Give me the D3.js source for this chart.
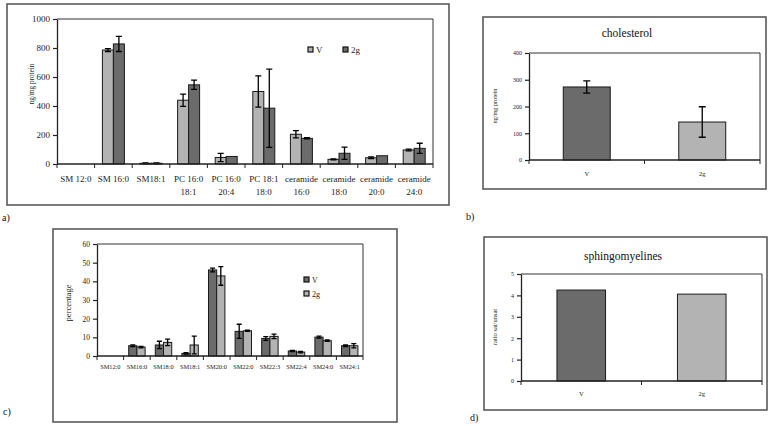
<!DOCTYPE html>
<html><head><meta charset="utf-8">
<script src="https://cdn.jsdelivr.net/npm/d3@7"></script>
<style>
html,body{margin:0;padding:0;background:#fff;}
svg{display:block;font-family:"Liberation Serif","Times New Roman",serif;}
</style></head>
<body>
<svg id="c" width="772" height="426"></svg>
<script>
// ---------- DATA ----------
const seriesNames = ["V", "2g"];

// a) lipid species (ng/mg protein)
const aCategories = ["SM 12:0", "SM 16:0", "SM18:1", "PC 16:0|18:1", "PC 16:0|20:4", "PC 18:1|18:0", "ceramide|16:0", "ceramide|18:0", "ceramide|20:0", "ceramide|24:0"];
const aV   = [0, 786, 5, 440, 45, 500, 205, 32, 43, 97];
const aVErr = [0, 10, 2, 42, 28, 108, 25, 3, 6, 6];
const a2g  = [0, 828, 5, 546, 52, 385, 177, 74, 57, 108];
const a2gErr = [0, 52, 2, 32, 0, 270, 4, 42, 0, 35];
const aTicks = [0, 200, 400, 600, 800, 1000];

// b) cholesterol (ng/mg protein)
const bCategories = ["V", "2g"];
const bValues = [273, 142];
const bErr = [23, 57];
const bTicks = [0, 100, 200, 300, 400];

// c) SM species (percentage)
const cCategories = ["SM12:0", "SM16:0", "SM18:0", "SM18:1", "SM20:0", "SM22:0", "SM22:3", "SM22:4", "SM24:0", "SM24:1"];
const cV   = [0, 5.5, 5.9, 1.4, 46.1, 13.2, 9.4, 2.7, 10.1, 5.5];
const cVErr = [0, 0.5, 2.0, 0.4, 1.0, 3.8, 1.0, 0.3, 0.5, 0.4];
const c2g  = [0, 4.8, 7.3, 5.9, 42.9, 13.5, 10.5, 2.1, 8.2, 5.5];
const c2gErr = [0, 0.4, 1.7, 4.8, 5.0, 0.3, 1.2, 0.4, 0.4, 1.1];
const cTicks = [0, 10, 20, 30, 40, 50, 60];

// d) sphingomyelines ratio sat/unsat
const dCategories = ["V", "2g"];
const dValues = [4.25, 4.06];
const dTicks = [0, 1, 2, 3, 4, 5];

// ---------- DRAW ----------
const LIGHT = "#b3b3b3", DARK = "#6b6b6b";
const svg = d3.select("#c");

function frame(x0, y0, x1, y1) {
  svg.append("rect").attr("x", x0).attr("y", y0).attr("width", x1 - x0).attr("height", y1 - y0)
    .attr("fill", "none").attr("stroke", "#5a5a5a").attr("stroke-width", 1.6);
}

function panel(o) {
  const g = svg.append("g");
  const x = d3.scaleBand().domain(o.categories).range([o.left, o.right]).paddingInner(0).paddingOuter(0);
  const y = d3.scaleLinear().domain([0, o.max]).range([o.bottom, o.top]);
  const sub = d3.scaleBand().domain(d3.range(o.series.length)).range([0, x.bandwidth()]).paddingInner(0).paddingOuter(o.outerPad);

  // plot box (top & right)
  g.append("path").attr("d", `M${o.left},${o.top}H${o.right}V${o.bottom}`)
    .attr("fill", "none").attr("stroke", "#333").attr("stroke-width", 1);

  // bars
  o.series.forEach((s, si) => {
    o.categories.forEach((c, ci) => {
      const v = s.values[ci];
      const bx = x(c) + sub(si);
      const bw = sub.bandwidth();
      if (v > 0) {
        g.append("rect").attr("x", bx).attr("y", y(v)).attr("width", bw).attr("height", y(0) - y(v))
          .attr("fill", s.colorFn ? s.colorFn(ci) : s.color).attr("stroke", "#1a1a1a").attr("stroke-width", 1);
      }
      const e = s.err ? s.err[ci] : 0;
      if (e > 0) {
        const cx = bx + bw / 2, hw = o.cap / 2;
        g.append("path").attr("d", `M${cx},${y(v + e)}V${y(Math.max(0, v - e))}M${cx - hw},${y(v + e)}H${cx + hw}M${cx - hw},${y(Math.max(0, v - e))}H${cx + hw}`)
          .attr("stroke", "#000").attr("stroke-width", 1.3).attr("fill", "none");
      }
    });
  });

  // y axis
  const ya = g.append("g").attr("transform", `translate(${o.left},0)`)
    .call(d3.axisLeft(y).tickValues(o.ticks).tickSize(4).tickSizeOuter(0).tickPadding(3).tickFormat(d3.format("d")));
  ya.select(".domain").attr("stroke", "#222").attr("stroke-width", 1.3);
  ya.selectAll(".tick line").attr("stroke", "#222").attr("stroke-width", 1.2);
  ya.selectAll(".tick text").attr("font-family", "Liberation Serif").attr("font-size", o.tickFont).attr("fill", "#222");

  // x axis line and ticks at category boundaries
  g.append("line").attr("x1", o.left).attr("x2", o.right).attr("y1", o.bottom).attr("y2", o.bottom)
    .attr("stroke", "#222").attr("stroke-width", 1.3);
  o.categories.forEach((c, i) => {
    const bx = x(c);
    g.append("line").attr("x1", bx).attr("x2", bx).attr("y1", o.bottom).attr("y2", o.bottom + 4).attr("stroke", "#222");
  });
  g.append("line").attr("x1", o.right).attr("x2", o.right).attr("y1", o.bottom).attr("y2", o.bottom + 4).attr("stroke", "#222");

  // category labels
  o.categories.forEach(c => {
    const lines = c.split("|");
    const t = g.append("text").attr("x", x(c) + x.bandwidth() / 2).attr("y", o.bottom + o.labelDy)
      .attr("text-anchor", "middle").attr("font-size", o.catFont).attr("fill", "#222");
    lines.forEach((l, i) => t.append("tspan").attr("x", x(c) + x.bandwidth() / 2).attr("dy", i === 0 ? 0 : o.lineH).text(l));
  });

  // y label
  if (o.yLabel) {
    g.append("text").attr("transform", `translate(${o.yLabelX},${o.yLabelY}) rotate(-90)`)
      .attr("text-anchor", "middle").attr("font-size", o.yLabelFont).attr("fill", "#222").text(o.yLabel);
  }
  if (o.title) {
    g.append("text").attr("x", o.titleX).attr("y", o.titleY).attr("text-anchor", "middle")
      .attr("font-size", o.titleFont).attr("fill", "#111").text(o.title);
  }
}

function legendItem(x, y, color, label, font) {
  svg.append("rect").attr("x", x).attr("y", y).attr("width", 5).attr("height", 5)
    .attr("fill", color).attr("stroke", "#111").attr("stroke-width", 1.2);
  svg.append("text").attr("x", x + 8).attr("y", y + 5.5).attr("font-size", font).attr("fill", "#222").text(label);
}

// frames
frame(7, 4, 449, 205);
frame(483, 17, 766, 189);
frame(53, 229, 397, 422);
frame(484, 237, 767, 410);

// a)
panel({
  categories: aCategories, left: 57, right: 433, top: 19, bottom: 164, max: 1000, ticks: aTicks,
  outerPad: 0.71, cap: 6, tickFont: 9, catFont: 9, labelDy: 18, lineH: 12.5,
  series: [{ values: aV, err: aVErr, color: LIGHT }, { values: a2g, err: a2gErr, color: DARK }],
  yLabel: "ng/mg protein", yLabelX: 34, yLabelY: 84, yLabelFont: 7.2
});
legendItem(308, 47, LIGHT, seriesNames[0], 9);
legendItem(343, 47, DARK, seriesNames[1], 9);

// b)
panel({
  categories: bCategories, left: 529, right: 760, top: 53, bottom: 160, max: 400, ticks: bTicks,
  outerPad: 0.73, cap: 7, tickFont: 6, catFont: 6.5, labelDy: 16, lineH: 8,
  series: [{ values: bValues, err: bErr, colorFn: i => i === 0 ? DARK : LIGHT }],
  yLabel: "ng/mg protein", yLabelX: 497, yLabelY: 106, yLabelFont: 6.2,
  title: "cholesterol", titleX: 627, titleY: 37, titleFont: 11.5
});

// c)
panel({
  categories: cCategories, left: 97, right: 363, top: 244, bottom: 356, max: 60, ticks: cTicks,
  outerPad: 0.62, cap: 5, tickFont: 7.5, catFont: 6.3, labelDy: 13, lineH: 8,
  series: [{ values: cV, err: cVErr, color: DARK }, { values: c2g, err: c2gErr, color: LIGHT }],
  yLabel: "percentage", yLabelX: 71, yLabelY: 303, yLabelFont: 8.5
});
legendItem(304, 277, DARK, seriesNames[0], 8);
legendItem(304, 291, LIGHT, seriesNames[1], 8);

// d)
panel({
  categories: dCategories, left: 521, right: 762, top: 274, bottom: 381, max: 5, ticks: dTicks,
  outerPad: 0.74, cap: 7, tickFont: 6, catFont: 6.5, labelDy: 15, lineH: 8,
  series: [{ values: dValues, colorFn: i => i === 0 ? DARK : LIGHT }],
  yLabel: "ratio sat/unsat", yLabelX: 497, yLabelY: 327, yLabelFont: 6.5,
  title: "sphingomyelines", titleX: 623, titleY: 260, titleFont: 11.5
});

// panel letters
[["a)", 2, 221], ["b)", 466, 220], ["c)", 3, 415], ["d)", 470, 421]].forEach(([t, x, y]) => {
  svg.append("text").attr("x", x).attr("y", y).attr("font-size", 10).attr("fill", "#111").text(t);
});
</script>
</body></html>
